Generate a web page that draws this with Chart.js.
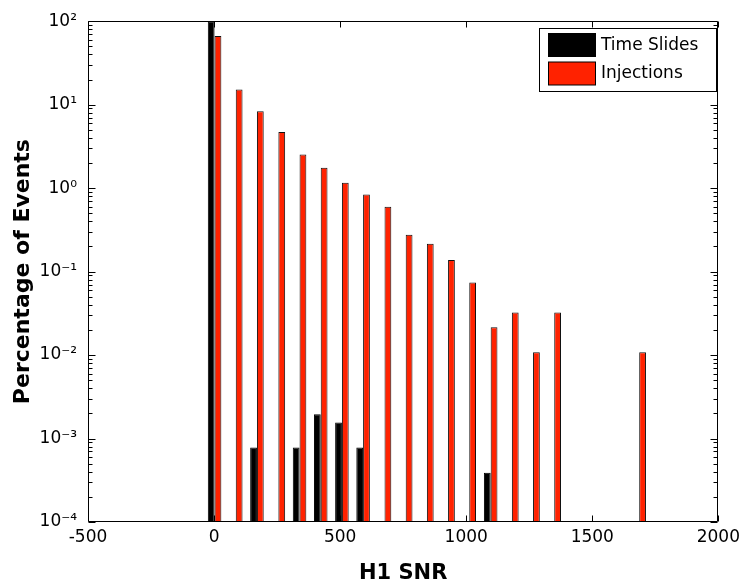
<!DOCTYPE html>
<html>
<head>
<meta charset="utf-8">
<script src="https://cdn.jsdelivr.net/npm/chart.js@4.4.1/dist/chart.umd.min.js"></script>
<style>
  html, body { margin: 0; padding: 0; background: #fff; }
  canvas { display: block; }
</style>
</head>
<body>
<canvas id="snr" width="745" height="587"></canvas>
<script>
// Histogram bin centres (H1 SNR)
const binCenters = [2, 86, 170, 255, 339, 423, 507, 591, 676, 760, 844, 928, 1012, 1097, 1181, 1265, 1349, 1433, 1518, 1602, 1686];
// Percentage of events per bin (null = empty bin)
const timeSlides = [99.99, null, 7.8e-4, null, 7.8e-4, 1.95e-3, 1.56e-3, 7.8e-4, null, null, null, null, null, 3.9e-4, null, null, null, null, null, null, null];
const injections = [66.7, 15.2, 8.36, 4.69, 2.53, 1.75, 1.16, 0.84, 0.597, 0.276, 0.215, 0.138, 0.074, 0.0216, 0.0324, 0.0108, 0.0324, null, null, null, 0.0108];

const seriesNames = ['Time Slides', 'Injections'];
const seriesColors = ['#000000', '#ff2200'];

const xTickValues = [-500, 0, 500, 1000, 1500, 2000];
const xTickLabels = ['-500', '0', '500', '1000', '1500', '2000'];
const yTickValues = [1e-4, 1e-3, 1e-2, 1e-1, 1e0, 1e1, 1e2];
const yTickLabels = ['10\u207B\u2074', '10\u207B\u00B3', '10\u207B\u00B2', '10\u207B\u00B9', '10\u2070', '10\u00B9', '10\u00B2'];

const tickFont = { family: '"DejaVu Sans", sans-serif', size: 17 };

// Box, inward tick marks and boxed legend
const framePlugin = {
  id: 'frame',
  afterDraw(chart) {
    const { ctx, chartArea: ca, scales } = chart;
    const x = scales.x, y = scales.y;
    const L = Math.round(ca.left) + 0.5, R = Math.round(ca.right) - 0.5;
    const T = Math.round(ca.top) + 0.5, B = Math.round(ca.bottom) - 0.5;
    ctx.save();
    ctx.strokeStyle = '#000';
    ctx.lineWidth = 1;
    ctx.beginPath();
    // x ticks, top and bottom
    xTickValues.forEach(v => {
      const px = Math.round(x.getPixelForValue(v)) + 0.5;
      ctx.moveTo(px, B); ctx.lineTo(px, B - 6);
      ctx.moveTo(px, T); ctx.lineTo(px, T + 6);
    });
    // y ticks, left and right (major + log minor)
    yTickValues.forEach((v, i) => {
      const py = Math.round(y.getPixelForValue(v)) + 0.5;
      ctx.moveTo(L, py); ctx.lineTo(L + 7, py);
      ctx.moveTo(R, py); ctx.lineTo(R - 7, py);
      if (i < yTickValues.length - 1) {
        for (let m = 2; m <= 9; m++) {
          const pm = Math.round(y.getPixelForValue(v * m)) + 0.5;
          ctx.moveTo(L, pm); ctx.lineTo(L + 4, pm);
          ctx.moveTo(R, pm); ctx.lineTo(R - 4, pm);
        }
      }
    });
    ctx.rect(L, T, R - L, B - T);
    ctx.stroke();

    // legend
    const lx = 539.5, ly = 28.5, lw = 177, lh = 63;
    ctx.fillStyle = '#fff';
    ctx.fillRect(lx, ly, lw, lh);
    ctx.strokeRect(lx, ly, lw, lh);
    ctx.font = '17px "DejaVu Sans", sans-serif';
    ctx.textBaseline = 'middle';
    ctx.textAlign = 'left';
    chart.data.datasets.forEach((ds, i) => {
      const sy = 33.5 + i * 28.5;
      ctx.fillStyle = ds.backgroundColor;
      ctx.fillRect(548.5, sy, 47, 23);
      ctx.strokeStyle = '#000';
      ctx.strokeRect(548.5, sy, 47, 23);
      ctx.fillStyle = '#000';
      ctx.fillText(ds.label, 601, sy + 12);
    });
    ctx.restore();
  }
};

new Chart(document.getElementById('snr'), {
  type: 'bar',
  data: {
    datasets: [
      {
        label: seriesNames[0],
        data: binCenters.map((c, i) => ({ x: c, y: timeSlides[i] })),
        backgroundColor: seriesColors[0],
        borderColor: '#000',
        borderWidth: 1
      },
      {
        label: seriesNames[1],
        data: binCenters.map((c, i) => ({ x: c, y: injections[i] })),
        backgroundColor: seriesColors[1],
        borderColor: '#111',
        borderWidth: 1
      }
    ]
  },
  options: {
    responsive: false,
    animation: false,
    events: [],
    layout: { padding: { top: 21, right: 20, left: 0, bottom: 0 } },
    datasets: { bar: { categoryPercentage: 0.64, barPercentage: 1.0 } },
    plugins: { legend: { display: false }, tooltip: { enabled: false } },
    scales: {
      x: {
        type: 'linear',
        min: -500,
        max: 2000,
        offset: false,
        grid: { display: false, drawTicks: false },
        border: { display: false },
        afterBuildTicks: s => { s.ticks = xTickValues.map(v => ({ value: v })); },
        afterFit: s => { s.height = 65; },
        ticks: {
          autoSkip: false,
          maxRotation: 0,
          padding: 5,
          color: '#000',
          font: tickFont,
          callback: (v) => xTickLabels[xTickValues.indexOf(v)]
        },
        title: {
          display: true,
          text: 'H1 SNR',
          color: '#000',
          font: { family: '"DejaVu Sans", sans-serif', size: 21, weight: 'bold' },
          padding: { top: 0, bottom: 1 }
        }
      },
      y: {
        type: 'logarithmic',
        min: 1e-4,
        max: 1e2,
        grid: { display: false, drawTicks: false },
        border: { display: false },
        afterBuildTicks: s => { s.ticks = yTickValues.map(v => ({ value: v })); },
        afterFit: s => { s.width = 88; },
        ticks: {
          autoSkip: false,
          padding: 11,
          color: '#000',
          font: tickFont,
          callback: (v) => {
            const i = yTickValues.findIndex(t => Math.abs(Math.log10(t) - Math.log10(v)) < 1e-9);
            return i >= 0 ? yTickLabels[i] : null;
          }
        },
        title: {
          display: true,
          text: 'Percentage of Events',
          color: '#000',
          font: { family: '"DejaVu Sans", sans-serif', size: 22, weight: 'bold' },
          padding: { top: 10, bottom: 0 }
        }
      }
    }
  },
  plugins: [framePlugin]
});
</script>
</body>
</html>
